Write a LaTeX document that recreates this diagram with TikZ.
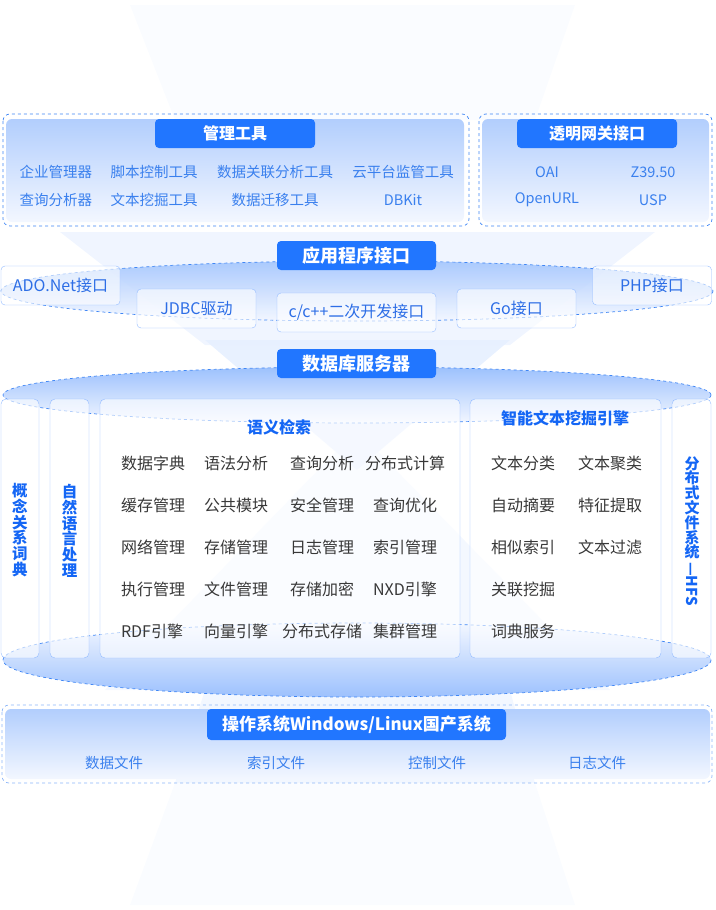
\documentclass[tikz,border=0pt]{standalone}
\usepackage{fontspec}
\setmainfont{Noto Sans CJK SC}
\definecolor{tabblue}{HTML}{2176FF}
\definecolor{itemblue}{HTML}{3A80EE}
\definecolor{apitext}{HTML}{2D6EE6}
\definecolor{titleblue}{HTML}{1466F5}
\definecolor{graytext}{HTML}{383838}
\definecolor{dashblue}{HTML}{3F86F5}
\definecolor{boxline}{HTML}{93BBFF}
\definecolor{gtop}{HTML}{B2CEFD}
\definecolor{gbot}{HTML}{F3F7FF}
\definecolor{bgfaint}{HTML}{FAFCFF}
\definecolor{bgmid}{HTML}{E6EFFF}
\tikzset{
  tabnode/.style={fill=tabblue, rounded corners=4pt, text=white, inner sep=0pt,
    font=\bfseries\fontsize{16}{16}\selectfont, minimum height=29pt},
  bigtab/.style={tabnode, font=\bfseries\fontsize{18}{18}\selectfont, minimum width=159pt},
  topitem/.style={text=itemblue, font=\fontsize{14.5}{14.5}\selectfont, inner sep=0pt},
  apibox/.style={draw=boxline, fill=white, fill opacity=0.6, text opacity=1, rounded corners=4pt,
    text=apitext, font=\fontsize{16}{16}\selectfont, minimum width=119pt, minimum height=39pt, inner sep=0pt},
  colbox/.style={draw=boxline, fill=white, fill opacity=0.6, rounded corners=5pt,
    minimum height=259pt, inner sep=0pt},
  gitem/.style={text=graytext, font=\fontsize{16}{16}\selectfont, inner sep=0pt},
  ctitle/.style={text=titleblue, font=\bfseries\fontsize{16}{16}\selectfont, inner sep=0pt},
  vtext/.style={text=titleblue, font=\bfseries\fontsize{15.5}{15.7}\selectfont, align=center, inner sep=0pt},
  groupdash/.style={draw=dashblue, dashed, rounded corners=7pt, line width=0.7pt},
  elldash/.style={draw=dashblue, dashed, line width=0.7pt},
}
\begin{document}
\begin{tikzpicture}[x=1pt,y=-1pt]
\useasboundingbox (0,0) rectangle (715,910);
% faint background hourglass
\fill[bgfaint] (130,5) -- (575,5) -- (535,120) -- (175,120) -- cycle;
\fill[bgmid, opacity=0.6] (60,232) -- (655,232) -- (510,345) -- (205,345) -- cycle;
\fill[bgmid, opacity=0.9] (205,340) -- (510,340) -- (357,470) -- cycle;
\fill[bgmid, opacity=0.45] (357,430) -- (610,690) -- (105,690) -- cycle;
\fill[bgmid, opacity=0.5] (205,690) -- (510,690) -- (535,783) -- (175,783) -- cycle;
\fill[bgfaint] (175,783) -- (535,783) -- (575,905) -- (130,905) -- cycle;

% ===== top groups =====
\shade[top color=gtop, bottom color=gbot, rounded corners=6pt] (6,119) rectangle (464,222);
\draw[groupdash] (3,114) rectangle (469,226);
\node[tabnode, minimum width=160pt] (mgt) at (235,133.5) {管理工具};
\node[topitem] (m11) at (56,172) {企业管理器};
\node[topitem] (m12) at (154,172) {脚本控制工具};
\node[topitem] (m13) at (275,172) {数据关联分析工具};
\node[topitem] (m14) at (403,172) {云平台监管工具};
\node[topitem] (m21) at (56,200) {查询分析器};
\node[topitem] (m22) at (154,200) {文本挖掘工具};
\node[topitem] (m23) at (275,200) {数据迁移工具};
\node[topitem] (m24) at (403,200) {DBKit};

\shade[top color=gtop, bottom color=gbot, rounded corners=6pt] (482,119) rectangle (709,222);
\draw[groupdash] (479,114) rectangle (712,226);
\node[tabnode, minimum width=160pt] (gwt) at (597,133.5) {透明网关接口};
\node[topitem] (g11) at (547,172) {OAI};
\node[topitem] (g12) at (653,172) {Z39.50};
\node[topitem] (g21) at (547,200) {OpenURL};
\node[topitem] (g22) at (653,200) {USP};

% ===== API layer =====
\shade[top color=gtop!90!tabblue, bottom color=gbot, opacity=0.9] (357,291) ellipse [x radius=356, y radius=30];
\draw[elldash] (357,291) ellipse [x radius=356, y radius=30];
\node[bigtab] (api) at (356.5,255.5) {应用程序接口};
\node[apibox] (ado) at (60.5,285.5) {ADO.Net接口};
\node[apibox] (php) at (652,285.5) {PHP接口};
\node[apibox] (jdbc) at (196.5,308.5) {JDBC驱动};
\node[apibox, minimum width=159pt] (cpp) at (356.5,312.5) {c/c++二次开发接口};
\node[apibox] (go) at (516.5,308.5) {Go接口};

% ===== DB server =====
\shade[top color=gtop!85!tabblue, bottom color=gbot] (357,395) ellipse [x radius=354, y radius=28];
\draw[elldash] (357,395) ellipse [x radius=354, y radius=28];
\shade[top color=gbot, bottom color=gtop!85!tabblue] (357,660) ellipse [x radius=354, y radius=37];
\draw[elldash] (357,660) ellipse [x radius=354, y radius=37];
\node[bigtab] (dbt) at (356.5,363.5) {数据库服务器};

\node[colbox, minimum width=38pt] (c1) at (20,528.5) {};
\node[colbox, minimum width=39pt] (c2) at (69.5,528.5) {};
\node[colbox, minimum width=360pt] (c3) at (280,528.5) {};
\node[colbox, minimum width=191pt] (c4) at (565.5,528.5) {};
\node[colbox, minimum width=39pt] (c5) at (691.5,528.5) {};

\node[vtext] (v1) at (20,530) {概\\念\\关\\系\\词\\典};
\node[vtext] (v2) at (69.5,531) {自\\然\\语\\言\\处\\理};
\node[vtext, font=\bfseries\fontsize{15}{14.8}\selectfont] (v3) at (692,508) {分\\布\\式\\文\\件\\系\\统};
\node[text=titleblue, font=\bfseries\fontsize{15}{15}\selectfont, rotate=-90, inner sep=0pt] (v3b) at (692,584) {—HFS};

\node[ctitle] (sem) at (279,427) {语义检索};
\node[gitem] (s11) at (153,463) {数据字典};
\node[gitem] (s12) at (236,463) {语法分析};
\node[gitem] (s13) at (322,463) {查询分析};
\node[gitem] (s14) at (405,463) {分布式计算};
\node[gitem] (s21) at (153,505) {缓存管理};
\node[gitem] (s22) at (236,505) {公共模块};
\node[gitem] (s23) at (322,505) {安全管理};
\node[gitem] (s24) at (405,505) {查询优化};
\node[gitem] (s31) at (153,547) {网络管理};
\node[gitem] (s32) at (236,547) {存储管理};
\node[gitem] (s33) at (322,547) {日志管理};
\node[gitem] (s34) at (405,547) {索引管理};
\node[gitem] (s41) at (153,589) {执行管理};
\node[gitem] (s42) at (236,589) {文件管理};
\node[gitem] (s43) at (322,589) {存储加密};
\node[gitem] (s44) at (405,589) {NXD引擎};
\node[gitem] (s51) at (152,631) {RDF引擎};
\node[gitem] (s52) at (236,631) {向量引擎};
\node[gitem] (s53) at (322,631) {分布式存储};
\node[gitem] (s54) at (405,631) {集群管理};

\node[ctitle] (tm) at (565,418) {智能文本挖掘引擎};
\node[gitem] (t11) at (523,463) {文本分类};
\node[gitem] (t12) at (610,463) {文本聚类};
\node[gitem] (t21) at (523,505) {自动摘要};
\node[gitem] (t22) at (610,505) {特征提取};
\node[gitem] (t31) at (523,547) {相似索引};
\node[gitem] (t32) at (610,547) {文本过滤};
\node[gitem] (t41) at (523,589) {关联挖掘};
\node[gitem] (t51) at (523,631) {词典服务};

% ===== OS layer =====
\shade[top color=gtop, bottom color=gbot, rounded corners=6pt] (5,709) rectangle (710,779);
\draw[groupdash, draw=dashblue!60] (2,705) rectangle (712,783);
\node[tabnode, minimum width=299pt, minimum height=31pt, font=\bfseries\fontsize{17}{17}\selectfont] (os) at (356.5,724.5) {操作系统Windows/Linux国产系统};
\node[topitem] (o1) at (114,763) {数据文件};
\node[topitem] (o2) at (276,763) {索引文件};
\node[topitem] (o3) at (437,763) {控制文件};
\node[topitem] (o4) at (597,763) {日志文件};
\end{tikzpicture}
\end{document}
